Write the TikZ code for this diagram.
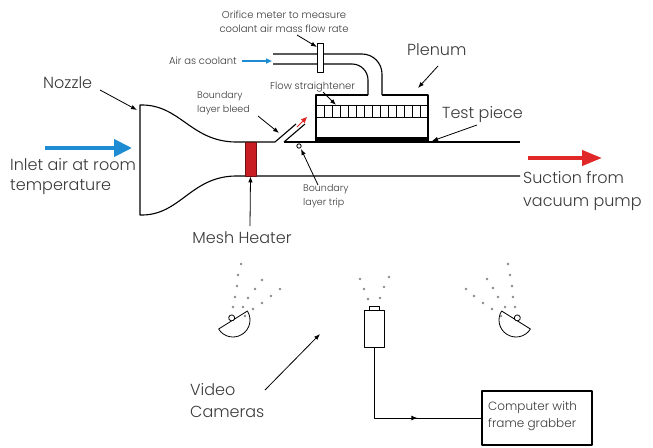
\documentclass[tikz,border=0pt]{standalone}
\usepackage{fontspec}
\setmainfont{Poppins}[UprightFont={* Light}]
\usetikzlibrary{arrows.meta,decorations.markings}
\definecolor{ink}{HTML}{3A3A3A}
\definecolor{inletblue}{RGB}{30,140,210}
\definecolor{suctionred}{RGB}{225,40,40}
\definecolor{heaterred}{RGB}{200,30,35}
\definecolor{dotgray}{HTML}{8A8A8A}
\begin{document}
\begin{tikzpicture}[x=1pt,y=-1pt,line join=round,
  wall/.style={draw=black,line width=1.1pt},
  fine/.style={draw=black,line width=0.8pt},
  lbl/.style={text=ink,inner sep=0pt,anchor=west,align=left},
  biglbl/.style={lbl,font=\fontsize{16}{22}\selectfont},
  midlbl/.style={lbl,font=\fontsize{12}{17}\selectfont},
  smalllbl/.style={lbl,font=\fontsize{10}{14}\selectfont},
  pointer/.style={draw=black,line width=0.8pt,-{Latex[length=6pt,width=4.5pt]}},
  camdot/.style={fill=dotgray}]
\useasboundingbox (0,0) rectangle (653,447);

% ---------- wind tunnel ----------
\draw[wall] (275,142) -- (235,142) .. controls (190,141) and (180,104) .. (140,105)
  -- (140,215) .. controls (180,216) and (190,177) .. (235,176) -- (520,176);
\draw[wall] (284,142) -- (520,142);
% bleed slot
\draw[wall] (275,142) -- (296,124);
\draw[wall] (284,142) -- (305,124);
\draw[suctionred,line width=1pt,-{Triangle[length=6pt,width=5pt]}] (297,127) -- (307,117);
% boundary layer trip
\draw[fine] (299,146) circle (2.2);

% mesh heater
\node[draw=heaterred!55!black,fill=heaterred,line width=0.8pt,minimum width=11pt,
  minimum height=34pt,inner sep=0pt] (heater) at (250.5,159) {};

% plenum, flow straightener and test piece
\draw[wall] (368,95) -- (316,95) -- (316,142);
\draw[wall] (382,95) -- (428,95) -- (428,142);
\draw[fine] (316,105) -- (428,105);
\draw[fine] (316,117) -- (428,117);
\foreach \k in {1,...,13}
  \draw[fine] (316+8*\k,105) -- (316+8*\k,117);
\fill[black] (316,137) rectangle (428,142);

% coolant supply duct
\draw[wall,rounded corners=20pt] (273,54) -- (382,54) -- (382,95);
\draw[wall,rounded corners=16pt] (273,64) -- (368,64) -- (368,95);
\node[draw=black,fill=white,line width=1pt,minimum width=6pt,minimum height=29pt,
  inner sep=0pt] (orifice) at (320,57.5) {};

% flow arrows
\draw[inletblue,line width=4pt,-{Triangle[length=18pt,width=17pt]}] (45,148) -- (132,148);
\draw[inletblue,line width=1.5pt,-{Triangle[length=6pt,width=5pt]}] (242,61) -- (272,61);
\draw[suctionred,line width=4pt,-{Triangle[length=20pt,width=15pt]}] (528,158) -- (602,158);

% ---------- labels ----------
\node[smalllbl,anchor=center,align=center] (orlbl) at (284,22)
  {Orifice meter to measure\\coolant air mass flow rate};
\node[smalllbl,anchor=east] (coollbl) at (237,61) {Air as coolant};
\node[biglbl] (plenumlbl) at (407,50) {Plenum};
\node[smalllbl] (fslbl) at (270,87) {Flow straightener};
\node[smalllbl,font=\fontsize{9.5}{14}\selectfont] (bleedlbl) at (197,103) {Boundary\\layer bleed};
\node[biglbl] (nozzlelbl) at (43,83) {Nozzle};
\node[biglbl,font=\fontsize{16}{20}\selectfont] (inletlbl) at (10,177) {Inlet air at room\\temperature};
\node[biglbl] (testlbl) at (442,115) {Test piece};
\node[biglbl,font=\fontsize{16}{23}\selectfont] (suctionlbl) at (523,191.5) {Suction from\\vacuum pump};
\node[smalllbl,font=\fontsize{9.5}{14}\selectfont] (triplbl) at (303,196) {Boundary\\layer trip};
\node[biglbl,anchor=center] (meshlbl) at (242,238) {Mesh Heater};
\node[biglbl] (videolbl) at (190,401) {Video\\Cameras};

% pointers
\coordinate (orA) at (297,35);    \coordinate (orB) at (317,47);
\coordinate (plA) at (438,66);    \coordinate (plB) at (418,88);
\coordinate (fsA) at (323,92);    \coordinate (fsB) at (336,105);
\coordinate (blA) at (258,116);   \coordinate (blB) at (279,133);
\coordinate (nzA) at (100,90);    \coordinate (nzB) at (137,110);
\coordinate (tpA) at (477,125);   \coordinate (tpB) at (432,141);
\coordinate (trA) at (318,185);   \coordinate (trB) at (301,149);
\coordinate (mhA) at (250,226);
\coordinate (vcA) at (265,390);   \coordinate (vcB) at (320,334);
\draw[pointer] (orA) -- (orB);
\draw[pointer] (plA) -- (plB);
\draw[pointer] (fsA) -- (fsB);
\draw[pointer] (blA) -- (blB);
\draw[pointer] (nzA) -- (nzB);
\draw[pointer] (tpA) -- (tpB);
\draw[pointer] (trA) -- (trB);
\draw[pointer] (mhA) -- (heater.south);
\draw[pointer] (vcA) -- (vcB);

% ---------- cameras ----------
% left dish camera
\begin{scope}[shift={(233,320)},rotate=32]
  \draw[fine] (-17,0) -- (17,0) arc[start angle=0,end angle=180,radius=17];
  \draw[fine,fill=white] (0,-2.5) circle (3);
\end{scope}
% right dish camera
\begin{scope}[shift={(516,320)},rotate=-32]
  \draw[fine] (-17,0) -- (17,0) arc[start angle=0,end angle=180,radius=17];
  \draw[fine,fill=white] (0,-2.5) circle (3);
\end{scope}
% overhead camera
\node[draw=black,line width=1pt,minimum width=20pt,minimum height=37pt,inner sep=0pt]
  (cam) at (374,328.5) {};
\draw[fine] (369,310) rectangle (379,306);
% light fans
\foreach \p in {(241,264),(238,275),(237,286),(235,297),(233,307),
                (262,280),(255,289),(248,298),(243,307),
                (280,289),(271,296),(262,303),(253,309),(245,316),
                (508,264),(510,275),(512,286),(513,297),(515,307),
                (487,279),(493,288),(498,297),(505,307),
                (466,289),(474,296),(483,303),(492,309),(501,316),
                (360,279),(364,289),(368,299),(389,277),(384,287),(380,298)}
  \fill[camdot] \p circle (1.3);

% computer
\node[draw=black,line width=1.2pt,minimum width=110pt,minimum height=54pt,inner sep=0pt]
  (comp) at (537,418) {};
\node[midlbl] (complbl) at (488,416.5) {Computer with\\frame grabber};
\draw[fine,postaction={decorate},
  decoration={markings,mark=at position 0.64 with {\arrow{Latex[length=6pt,width=5pt]}}}]
  (cam.south) |- (comp.west);
\end{tikzpicture}
\end{document}
